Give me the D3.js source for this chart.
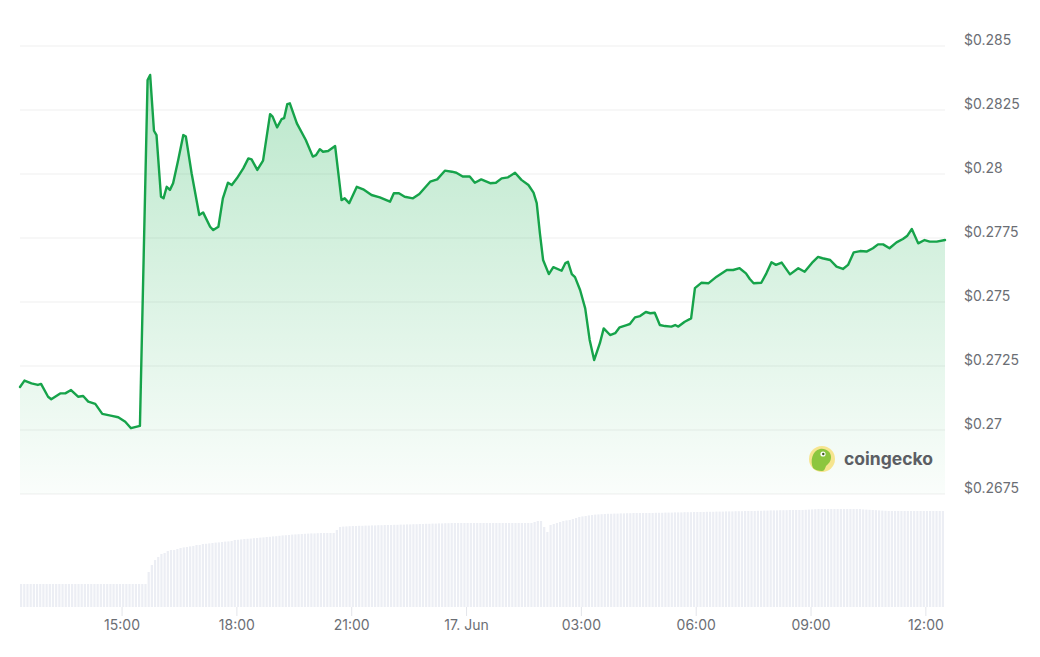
<!DOCTYPE html>
<html>
<head>
<meta charset="utf-8">
<script src="https://cdn.jsdelivr.net/npm/d3@7"></script>
<style>
  html, body { margin: 0; padding: 0; background: #ffffff; }
  svg { display: block; }
  text { font-family: Inter, "Noto Sans", sans-serif; }
</style>
</head>
<body>
<svg id="chart" width="1040" height="657"></svg>
<script>
// ---------------- DATA ----------------
// Price samples (USD), 16 Jun 12:20 -> 17 Jun 12:30
const priceTimes = [
  "12:20","12:27","12:38","12:48","12:53","13:04","13:09","13:23","13:31","13:40",
  "13:51","13:59","14:07","14:18","14:29","14:44","14:54","15:05","15:14","15:28",
  "15:40","15:44","15:50","15:54","16:01","16:05","16:10","16:15","16:20","16:28",
  "16:36","16:40","16:49","17:01","17:07",
  "17:18","17:23","17:31","17:38","17:46","17:52","18:00","18:10","18:18","18:23",
  "18:32","18:41","18:52","18:56","19:03","19:10","19:14","19:19","19:23","19:34",
  "19:48","19:59","20:04","20:10","20:15","20:23","20:34","20:44","20:49","20:56",
  "21:08","21:18","21:31","21:44","22:00","22:06","22:14","22:23","22:36","22:46",
  "23:03","23:14","23:26","23:37","23:44","23:54","00:05","00:13","00:23","00:37",
  "00:46","00:55","01:05","01:16","01:26","01:37","01:45","01:50","01:55","02:00",
  "02:09","02:16","02:29","02:35","02:39","02:45","02:50","02:58","03:06","03:13",
  "03:20","03:29","03:35","03:45","03:53","04:00","04:11","04:16","04:24","04:32",
  "04:41","04:48","04:55","05:03","05:11","05:21","05:27","05:32","05:42","05:52",
  "05:58","06:08","06:19","06:32","06:48","06:58","07:08","07:18","07:24","07:30",
  "07:42","07:50","07:58","08:05","08:14","08:27","08:40","08:50","09:03","09:11",
  "09:18","09:30","09:40","09:50","09:58","10:07","10:17","10:27","10:37","10:45",
  "10:53","11:03","11:14","11:24","11:31","11:38","11:48","11:58","12:06","12:17",
  "12:30"
];
const priceValues = [
  0.27168,0.27193,0.27182,0.27176,0.27180,0.27130,0.27120,0.27143,0.27143,0.27156,
  0.27130,0.27133,0.27111,0.27102,0.27063,0.27055,0.27050,0.27032,0.27007,0.27016,
  0.28367,0.28387,0.28169,0.28152,0.27911,0.27905,0.27950,0.27938,0.27964,0.28055,
  0.28152,0.28146,0.28003,0.27840,0.27850,
  0.27794,0.27781,0.27794,0.27905,0.27966,0.27957,0.27983,0.28022,0.28061,0.28057,
  0.28016,0.28052,0.28234,0.28224,0.28182,0.28214,0.28218,0.28273,0.28276,0.28198,
  0.28133,0.28068,0.28074,0.28097,0.28087,0.28090,0.28109,0.27898,0.27905,0.27886,
  0.27950,0.27940,0.27918,0.27909,0.27892,0.27925,0.27925,0.27911,0.27905,0.27922,
  0.27970,0.27979,0.28013,0.28009,0.28005,0.27990,0.27990,0.27966,0.27979,0.27964,
  0.27966,0.27983,0.27987,0.28005,0.27977,0.27957,0.27927,0.27886,0.27768,0.27664,
  0.27609,0.27636,0.27622,0.27652,0.27657,0.27609,0.27597,0.27547,0.27475,0.27352,
  0.27273,0.27339,0.27397,0.27371,0.27378,0.27401,0.27410,0.27414,0.27440,0.27445,
  0.27461,0.27456,0.27458,0.27410,0.27406,0.27404,0.27410,0.27404,0.27423,0.27436,
  0.27554,0.27575,0.27573,0.27599,0.27625,0.27625,0.27632,0.27612,0.27590,0.27573,
  0.27575,0.27612,0.27655,0.27645,0.27654,0.27608,0.27632,0.27618,0.27657,0.27676,
  0.27671,0.27664,0.27638,0.27629,0.27645,0.27694,0.27699,0.27697,0.27710,0.27725,
  0.27725,0.27710,0.27733,0.27746,0.27759,0.27785,0.27729,0.27742,0.27736,0.27736,
  0.27742
];
// 24h volume (millions USD), one bar per 5 minutes from 16 Jun 12:20
const volumeValues = [
  11.5,11.5,11.5,11.5,11.5,11.5,11.5,11.5,11.5,11.5,11.5,11.5,
  11.5,11.5,11.5,11.5,11.5,11.5,11.5,11.5,11.5,11.5,11.5,11.5,
  11.5,11.5,11.5,11.5,11.5,11.5,11.5,11.5,11.5,11.5,11.5,11.5,
  11.5,11.5,11.5,11.5,17.5,21,23.5,25,26.5,27,28,28.5,
  28.5,29,29.5,29.8,30,30.3,30.5,31,31,31.5,31.6,31.8,
  32,32.2,32.3,32.5,32.7,32.8,33,33.5,33.6,33.8,34,34.1,
  34.2,34.4,34.5,34.7,34.8,35,35.1,35.3,35.4,35.6,35.8,35.9,
  36,36.2,36.3,36.4,36.5,36.6,36.7,36.8,36.8,36.9,37,37,
  37,37,37,38.5,40,40.2,40.3,40.4,40.5,40.5,40.6,40.6,
  40.7,40.7,40.8,40.8,40.9,40.9,41,41,41,41.1,41.1,41.2,
  41.2,41.3,41.3,41.4,41.4,41.5,41.5,41.6,41.6,41.7,41.7,41.8,
  41.8,41.9,41.9,42,42,42,42,42,42,42,42,42,
  42,42,42,42,42,42,42,42,42,42,42,42,
  42,42,42,42,42,42.5,43,43,40,37.5,41,41.5,
  42,42.5,43,43.3,43.5,44,44.5,45,45.3,45.5,45.8,46,
  46.2,46.3,46.4,46.5,46.6,46.6,46.7,46.7,46.8,46.8,46.9,46.9,
  47,47,47,47,47,47,47,47.1,47.1,47.1,47.2,47.2,
  47.2,47.3,47.3,47.3,47.4,47.4,47.4,47.5,47.5,47.5,47.5,47.6,
  47.6,47.6,47.7,47.7,47.7,47.8,47.8,47.8,47.9,47.9,47.9,48,
  48,48,48,48.1,48.1,48.2,48.2,48.3,48.3,48.3,48.4,48.4,
  48.4,48.5,48.5,48.5,48.5,48.5,48.6,48.7,48.8,48.9,49,49,
  49,49,49,49,49,49,49,49,49,49,49,49,
  48.8,48.7,48.6,48.5,48.4,48.3,48.2,48.1,48,48,48,48,
  48,48,48,48,48,48,48,48,48,48,48,48,
  48,48
];
const yTickValues = [0.2675, 0.27, 0.2725, 0.275, 0.2775, 0.28, 0.2825, 0.285];
const yTickLabels = ["$0.2675","$0.27","$0.2725","$0.275","$0.2775","$0.28","$0.2825","$0.285"];
const xTickTimes = ["2024-06-16T15:00","2024-06-16T18:00","2024-06-16T21:00","2024-06-17T00:00",
                    "2024-06-17T03:00","2024-06-17T06:00","2024-06-17T09:00","2024-06-17T12:00"];
const xTickLabels = ["15:00","18:00","21:00","17. Jun","03:00","06:00","09:00","12:00"];
const startTime = "2024-06-16T12:20";
const endTime = "2024-06-17T12:30";
const watermark = "coingecko";

// ---------------- BUILD ----------------
const parseISO = d3.timeParse("%Y-%m-%dT%H:%M");
const t0 = parseISO(startTime), t1 = parseISO(endTime);

// resolve HH:MM strings into dates with day rollover
const prices = [];
let day = new Date(t0.getFullYear(), t0.getMonth(), t0.getDate());
let prev = null;
priceTimes.forEach((s, i) => {
  const [h, m] = s.split(":").map(Number);
  let d = new Date(day.getFullYear(), day.getMonth(), day.getDate(), h, m);
  if (prev && d < prev) { day = d3.timeDay.offset(day, 1); d = new Date(day.getFullYear(), day.getMonth(), day.getDate(), h, m); }
  prev = d;
  prices.push({ t: d, v: priceValues[i] });
});
const volumes = volumeValues.map((v, i) => ({ t: d3.timeMinute.offset(t0, 5 * i), v }));

const svg = d3.select("#chart");
const left = 20, right = 945;
const priceTop = 46, priceBottom = 494;
const volTop = 494, volBottom = 607;

const x = d3.scaleTime().domain([t0, t1]).range([left, right]);
const y = d3.scaleLinear().domain([0.2675, 0.285]).range([priceBottom, priceTop]);
const yv = d3.scaleLinear().domain([0, 56.5]).range([volBottom, volTop]);

// gradient
const defs = svg.append("defs");
const grad = defs.append("linearGradient").attr("id", "areaGrad")
  .attr("gradientUnits", "userSpaceOnUse").attr("x1", 0).attr("x2", 0)
  .attr("y1", y(0.2838)).attr("y2", priceBottom);
grad.append("stop").attr("offset", "0%").attr("stop-color", "#00a83e").attr("stop-opacity", 0.27);
grad.append("stop").attr("offset", "100%").attr("stop-color", "#00a83e").attr("stop-opacity", 0.02);

// volume bars
const step = x(d3.timeMinute.offset(t0, 5)) - x(t0);
svg.append("g").selectAll("rect").data(volumes).join("rect")
  .attr("x", d => x(d.t))
  .attr("width", Math.max(1, step - 1))
  .attr("y", d => yv(d.v))
  .attr("height", d => volBottom - yv(d.v))
  .attr("fill", "#eceef4");

// grid lines
svg.append("g").selectAll("line").data(yTickValues).join("line")
  .attr("x1", left).attr("x2", right)
  .attr("y1", d => y(d)).attr("y2", d => y(d))
  .attr("stroke", "#efefef").attr("stroke-width", 1);

// y labels
svg.append("g").selectAll("text").data(yTickValues).join("text")
  .attr("x", 964).attr("y", d => y(d) - 1.5)
  .attr("fill", "#6b6e74").attr("font-size", 14)
  .text((d, i) => yTickLabels[i]);

// area + line
const area = d3.area().x(d => x(d.t)).y0(priceBottom).y1(d => y(d.v));
svg.append("path").datum(prices).attr("d", area).attr("fill", "url(#areaGrad)");
const line = d3.line().x(d => x(d.t)).y(d => y(d.v));
svg.append("path").datum(prices).attr("d", line)
  .attr("fill", "none").attr("stroke", "#16a34a").attr("stroke-width", 2.4)
  .attr("stroke-linejoin", "round").attr("stroke-linecap", "round");

// x axis ticks & labels
const xTicks = xTickTimes.map(parseISO);
svg.append("g").selectAll("line").data(xTicks).join("line")
  .attr("x1", d => x(d)).attr("x2", d => x(d))
  .attr("y1", volBottom).attr("y2", volBottom + 9)
  .attr("stroke", "#e3e5ea").attr("stroke-width", 1);
svg.append("g").selectAll("text").data(xTicks).join("text")
  .attr("x", d => x(d)).attr("y", 630)
  .attr("text-anchor", "middle").attr("fill", "#6b6e74").attr("font-size", 14)
  .text((d, i) => xTickLabels[i]);

// watermark logo
const logo = svg.append("g").attr("transform", "translate(822,459)");
logo.append("circle").attr("r", 13).attr("fill", "#f6e58f");
logo.append("path")
  .attr("d", "M-9,9 C-12,2 -10,-8 -2,-10 C4,-11 9,-7 9,-2 C9,3 6,5 4,7 C3,10 2,12 0,12 C-4,12 -7,11 -9,9 Z")
  .attr("fill", "#8cc63f");
logo.append("circle").attr("cx", 1).attr("cy", -5).attr("r", 2.6).attr("fill", "#ffffff");
logo.append("circle").attr("cx", 1.3).attr("cy", -5).attr("r", 1.2).attr("fill", "#3d5a1e");
svg.append("text").attr("x", 844).attr("y", 465)
  .attr("font-size", 17.5).attr("font-weight", 700).attr("fill", "#5b5e63")
  .attr("textLength", 89).attr("lengthAdjust", "spacingAndGlyphs")
  .attr("font-family", "Lato, 'Open Sans', sans-serif")
  .text(watermark);
</script>
</body>
</html>
